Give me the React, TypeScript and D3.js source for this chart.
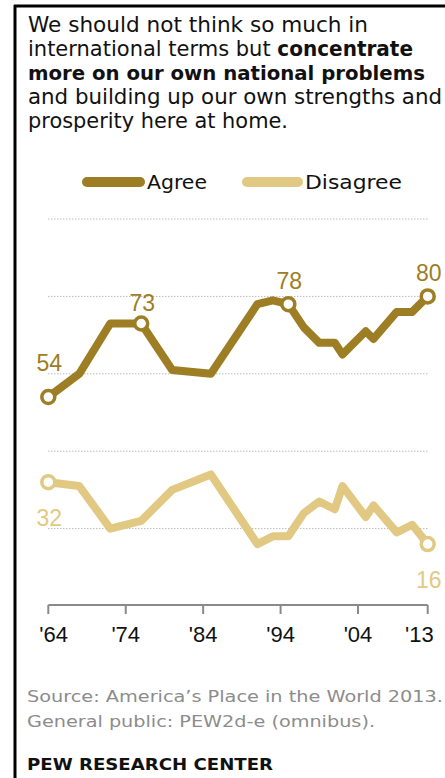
import React from "react";
import * as d3 from "d3";

const years = [1964, 1968, 1972, 1976, 1980, 1985, 1991, 1993, 1995, 1997, 1999, 2001, 2002, 2005, 2006, 2009, 2011, 2013];
const agree = [54, 60, 73, 73, 61, 60, 78, 79, 78, 72, 68, 68, 65, 71, 69, 76, 76, 80];
const disagree = [32, 31, 20, 22, 30, 34, 16, 18, 18, 24, 27, 25, 31, 23, 26, 19, 21, 16];

const tickYears = [1964, 1974, 1984, 1994, 2004, 2013];
const tickLabels = ["'64", "'74", "'84", "'94", "'04", "'13"];
const gridValues = [20, 40, 60, 80, 100];

const agreeLabels = [
  { year: 1964, dy: -26 },
  { year: 1976, dy: -12 },
  { year: 1995, dy: -15 },
  { year: 2013, dy: -15 },
];
const disagreeLabels = [
  { year: 1964, dy: 44 },
  { year: 2013, dy: 44 },
];

const AGREE = "#9E7E24";
const DISAGREE = "#E2C983";
const FONT = "'DejaVu Sans', Verdana, sans-serif";
const NUMFONT = "'Liberation Sans', Arial, sans-serif";

export default function App() {
  const x = d3.scaleLinear().domain([1964, 2013]).range([48.3, 427.7]);
  const y = d3.scaleLinear().domain([0, 100]).range([606, 219]);

  const agreePts = years.map((yr, i) => [yr, agree[i]] as [number, number]);
  const disPts = years.map((yr, i) => [yr, disagree[i]] as [number, number]);
  const line = d3
    .line<[number, number]>()
    .x((d) => x(d[0]))
    .y((d) => y(d[1]));

  const valOf = (arr: number[], yr: number) => arr[years.indexOf(yr)];
  const fit = { lengthAdjust: "spacingAndGlyphs" as const };

  return (
    <svg
      width={445}
      height={778}
      style={{ position: "absolute", left: 0, top: 0, background: "#fff" }}
      fontFamily={FONT}
    >
      <rect x={0} y={0} width={445} height={778} fill="#fff" />
      {/* frame */}
      <line x1={15} y1={5} x2={15} y2={778} stroke="#000" strokeWidth={3} />
      <line x1={14} y1={6} x2={445} y2={6} stroke="#000" strokeWidth={3} />

      {/* title */}
      <g fontSize={21.5} fill="#111">
        <text x={28} y={32} textLength={340} {...fit}>We should not think so much in</text>
        <text x={28} y={56} textLength={385} {...fit}>
          international terms but <tspan fontWeight="bold" fontSize={20.5}>concentrate</tspan>
        </text>
        <text x={28} y={80} fontWeight="bold" fontSize={20} textLength={397} {...fit}>more on our own national problems</text>
        <text x={28} y={104} fontSize={21} textLength={414} {...fit}>and building up our own strengths and</text>
        <text x={28} y={128} textLength={260} {...fit}>prosperity here at home.</text>
      </g>

      {/* legend */}
      <line x1={87} y1={182} x2={140} y2={182} stroke={AGREE} strokeWidth={10} strokeLinecap="round" />
      <text x={147} y={189} fontSize={20} fill="#111" textLength={60} {...fit}>Agree</text>
      <line x1={247} y1={182} x2={298} y2={182} stroke={DISAGREE} strokeWidth={10} strokeLinecap="round" />
      <text x={305} y={189} fontSize={20} fill="#111" textLength={97} {...fit}>Disagree</text>

      {/* grid */}
      {gridValues.map((v) => (
        <line
          key={v}
          x1={x(1964)}
          x2={x(2013)}
          y1={y(v)}
          y2={y(v)}
          stroke="#9a9a9a"
          strokeWidth={1}
          strokeDasharray="1,2"
        />
      ))}

      {/* axis */}
      <line x1={x(1964)} x2={x(2013)} y1={605} y2={605} stroke="#8a8a8a" strokeWidth={2} />
      {tickYears.map((t, i) => (
        <g key={t}>
          <line x1={x(t)} x2={x(t)} y1={605} y2={614} stroke="#8a8a8a" strokeWidth={2} />
          <text
            x={i === 0 ? x(t) - 9 : i === tickYears.length - 1 ? x(t) + 6 : x(t)}
            y={642}
            fontSize={22}
            fontFamily={NUMFONT}
            fill="#111"
            textAnchor={i === 0 ? "start" : i === tickYears.length - 1 ? "end" : "middle"}
          >
            {tickLabels[i]}
          </text>
        </g>
      ))}

      {/* lines */}
      <path d={line(disPts) || ""} fill="none" stroke={DISAGREE} strokeWidth={8} strokeLinejoin="round" strokeLinecap="round" />
      <path d={line(agreePts) || ""} fill="none" stroke={AGREE} strokeWidth={8} strokeLinejoin="round" strokeLinecap="round" />

      {/* markers and labels */}
      {agreeLabels.map((l) => (
        <g key={"a" + l.year}>
          <circle cx={x(l.year)} cy={y(valOf(agree, l.year))} r={6.5} fill="#fff" stroke={AGREE} strokeWidth={3.5} />
          <text x={x(l.year) + 1} y={y(valOf(agree, l.year)) + l.dy} fontSize={23} fontFamily={NUMFONT} fill={AGREE} textAnchor="middle">
            {valOf(agree, l.year)}
          </text>
        </g>
      ))}
      {disagreeLabels.map((l) => (
        <g key={"d" + l.year}>
          <circle cx={x(l.year)} cy={y(valOf(disagree, l.year))} r={6.5} fill="#fff" stroke={DISAGREE} strokeWidth={3.5} />
          <text x={x(l.year) + 1} y={y(valOf(disagree, l.year)) + l.dy} fontSize={23} fontFamily={NUMFONT} fill={DISAGREE} textAnchor="middle">
            {valOf(disagree, l.year)}
          </text>
        </g>
      ))}

      {/* source */}
      <g fontSize={16} fill="#8c8c8c">
        <text x={27} y={702} textLength={416} {...fit}>Source: America’s Place in the World 2013.</text>
        <text x={27} y={727} textLength={348} {...fit}>General public: PEW2d-e (omnibus).</text>
      </g>
      <text x={27} y={770} fontSize={16.5} fontWeight="bold" fill="#111" textLength={246} {...fit}>PEW RESEARCH CENTER</text>
    </svg>
  );
}
